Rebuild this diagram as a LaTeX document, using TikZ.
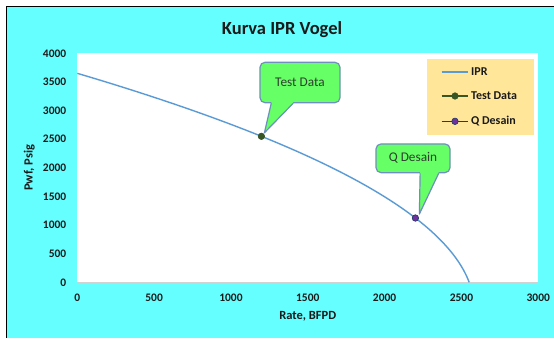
\documentclass[tikz,border=0pt]{standalone}
\usepackage{fontspec}
\setmainfont{Carlito}
\usetikzlibrary{calc}
\definecolor{ipcyan}{HTML}{66FFFF}
\definecolor{ipblue}{HTML}{5B9BD5}
\definecolor{ipgreen}{HTML}{375623}
\definecolor{ipnavy}{HTML}{203864}
\definecolor{ippurple}{HTML}{7030A0}
\definecolor{iplime}{HTML}{66FF66}
\definecolor{ipedge}{HTML}{6F8FBF}
\definecolor{iplegend}{HTML}{FFE699}
\definecolor{ipink}{HTML}{1A1A1A}
\definecolor{iptext}{HTML}{2E3F2E}
\tikzset{
  ticklab/.style={font=\fontsize{11.5}{12}\selectfont\bfseries,text=ipink,inner sep=0pt},
  axtitle/.style={font=\fontsize{12.5}{14}\selectfont\bfseries,text=ipink,inner sep=0pt},
  callbox/.style={draw=ipedge,fill=iplime,line width=1.2pt,rounded corners=5pt,inner sep=0pt,
    font=\fontsize{13.3}{15}\selectfont,text=iptext},
  callptr/.style={draw=ipedge,line width=1.2pt,line join=round},
  ipr/.style={ipblue,line width=1.4pt},
  mk/.style={circle,inner sep=0pt,minimum size=6.5pt,line width=0.6pt},
  legtext/.style={font=\fontsize{12}{14}\selectfont\bfseries,text=ipink,inner sep=0pt,anchor=west},
}

\begin{document}
\begin{tikzpicture}[x=1pt,y=1pt]
\useasboundingbox (0,0) rectangle (554,338);
\fill[ipcyan] (6.7,0) rectangle (554,331.3);
\draw[line width=1.5pt] (6.7,0) -- (6.7,331.3) -- (554,331.3);
\node[font=\fontsize{18.5}{20}\selectfont\bfseries,text=ipink] (title) at (282,308.7) {Kurva IPR Vogel};
\fill[white] (77.3,55.7) rectangle (538.3,284.7);
\draw[gray!35,line width=0.8pt] (77.3,55.7) -- (538.3,55.7);
\foreach \v in {0,500,...,4000}
  \node[ticklab,anchor=east] at (66.5,{55.7+\v*0.05725}) {\v};
\foreach \v in {0,500,...,3000}
  \node[ticklab] at ({77.3+\v*0.15367},40.7) {\v};
\node[axtitle] (xlab) at (307.8,21.3) {Rate, BFPD};
\node[axtitle,rotate=90] (ylab) at (29.3,170.2) {Pwf, Psig};

\begin{scope}[shift={(77.3,55.7)},x=0.15367pt,y=0.05725pt]
\draw[ipr] plot[domain=0:3650,samples=120,variable=\p]
  ({2550*(1-0.2*\p/3650-0.8*(\p/3650)^2)},\p);
\coordinate (test) at (1198,2550);
\coordinate (qdes) at (2200,1123);
\end{scope}

\node[fill=iplegend,minimum width=107.4pt,minimum height=75.7pt,inner sep=0pt] (legend) at (480.3,240.85) {};
\draw[ipr] (441.7,266) -- (468.3,266);
\node[legtext] (lipr) at (471,266) {IPR};
\draw[ipgreen,line width=1.4pt] (441.7,242) -- (468.3,242);
\node[mk,fill=ipgreen,draw=ipgreen] (ltestdot) at (455,242) {};
\node[legtext] (ltest) at (471,242) {Test Data};
\draw[ipnavy,line width=1.4pt] (441.7,216.7) -- (468.3,216.7);
\node[mk,fill=ippurple,draw=ipnavy] (lqdesdot) at (455,216.7) {};
\node[legtext] (lqdes) at (471,216.7) {Q Desain};

\node[callbox,minimum width=80pt,minimum height=40.4pt] (tdbox) at (300,255.5) {Test Data};
\coordinate (tdl) at ($(tdbox.south west)!0.146!(tdbox.south east)$);
\coordinate (tdr) at ($(tdbox.south west)!0.416!(tdbox.south east)$);
\coordinate (tdtip) at ($(test)+(3,3.5)$);
\fill[iplime] (tdl) -- ++(0,1.5) -- ($(tdr)+(0,1.5)$) -- (tdr) -- (tdtip) -- cycle;
\draw[callptr] (tdl) -- (tdtip) -- (tdr);

\node[callbox,minimum width=74pt,minimum height=28.7pt] (qdbox) at (413,179.7) {Q Desain};
\coordinate (qdl) at ($(qdbox.south west)!0.595!(qdbox.south east)$);
\coordinate (qdr) at ($(qdbox.south west)!0.842!(qdbox.south east)$);
\coordinate (qdtip) at ($(qdes)+(4,4)$);
\fill[iplime] (qdl) -- ++(0,1.5) -- ($(qdr)+(0,1.5)$) -- (qdr) -- (qdtip) -- cycle;
\draw[callptr] (qdl) -- (qdtip) -- (qdr);

\node[mk,fill=ipgreen,draw=ipgreen] (testdot) at (test) {};
\node[mk,fill=ippurple,draw=ipnavy] (qdesdot) at (qdes) {};
\end{tikzpicture}
\end{document}
